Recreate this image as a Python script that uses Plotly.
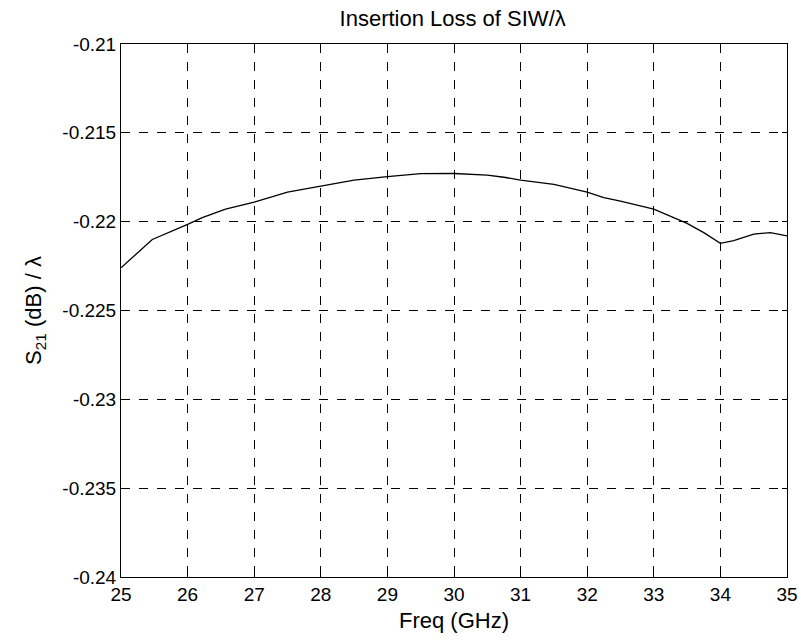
import plotly.graph_objects as go

freq = [25.0, 25.47, 26.0, 26.22, 26.57, 27.0, 27.5, 28.0, 28.5, 29.0, 29.5, 30.0,
        30.5, 30.75, 31.0, 31.5, 32.0, 32.25, 32.5, 33.0, 33.3, 33.5, 33.75, 34.0,
        34.2, 34.5, 34.75, 35.0]
s21 = [-0.2226, -0.2210, -0.22015, -0.21977, -0.2193, -0.2189, -0.21834, -0.2180,
       -0.21766, -0.21747, -0.2173, -0.21729, -0.21738, -0.2175, -0.21766, -0.2179,
       -0.21834, -0.21865, -0.21884, -0.2193, -0.21978, -0.2201, -0.22062, -0.22122,
       -0.22107, -0.2207, -0.22062, -0.2208]

xticks = [25, 26, 27, 28, 29, 30, 31, 32, 33, 34, 35]
yticks = [-0.21, -0.215, -0.22, -0.225, -0.23, -0.235, -0.24]
yticklabels = ["-0.21", "-0.215", "-0.22", "-0.225", "-0.23", "-0.235", "-0.24"]

fam = "Liberation Sans, Arial, sans-serif"
tickfont = dict(family=fam, size=19, color="black")

fig = go.Figure()
fig.add_trace(go.Scatter(x=freq, y=s21, mode="lines",
                         line=dict(color="black", width=1.3), showlegend=False))

axis_common = dict(showline=True, linecolor="black", linewidth=1, mirror="ticks",
                   showgrid=True, gridcolor="black", gridwidth=1, griddash="dash",
                   ticks="inside", ticklen=5, tickcolor="black", zeroline=False,
                   tickfont=tickfont, automargin=False)

fig.update_layout(
    width=804, height=641,
    margin=dict(l=121, r=17, t=44, b=64),
    paper_bgcolor="white", plot_bgcolor="white",
    font=dict(family=fam, color="black"),
    title=dict(text="Insertion Loss of SIW/λ", x=0.563, xanchor="center",
               y=0.972, yanchor="middle", font=dict(size=22, family=fam, color="black")),
    xaxis=dict(range=[25, 35], tickvals=xticks, ticktext=[str(t) for t in xticks],
               title=dict(text="Freq (GHz)", font=dict(size=22, family=fam), standoff=8),
               **axis_common),
    yaxis=dict(range=[-0.24, -0.21], tickvals=yticks, ticktext=yticklabels,
               title=dict(text="S<sub>21</sub> (dB) / λ", font=dict(size=22, family=fam), standoff=14),
               **axis_common),
)

fig.write_html("out.html")
